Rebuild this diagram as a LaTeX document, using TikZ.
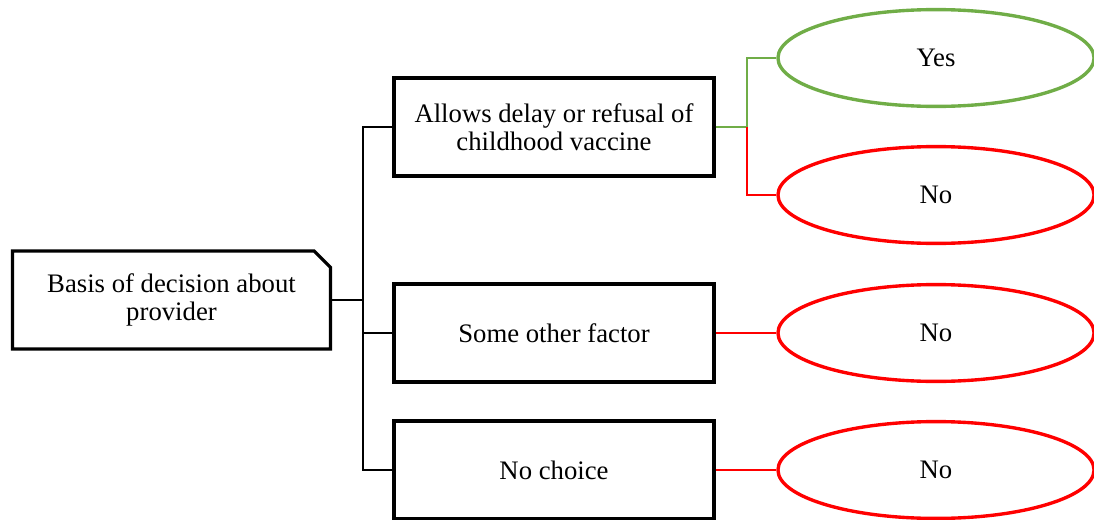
\documentclass[tikz,border=0pt]{standalone}
\usepackage{fontspec}
\setmainfont{Liberation Serif}
\usetikzlibrary{shapes.geometric,shapes.misc}
\definecolor{yesgreen}{RGB}{112,173,71}
\definecolor{nored}{RGB}{255,0,0}
\begin{document}
\begin{tikzpicture}[x=0.025cm, y=-0.025cm,
	box/.style={draw, line width=2.2pt, minimum width=8cm, minimum height=2.45cm, align=center, font=\fontsize{19}{20}\selectfont, inner sep=2pt},
	rootbox/.style={box, chamfered rectangle, chamfered rectangle corners=north east, chamfered rectangle xsep=0.2cm, chamfered rectangle ysep=0.21cm, minimum width=7.95cm, minimum height=2.45cm},
	answer/.style={ellipse, draw, line width=2.4pt, minimum width=7.9cm, minimum height=2.42cm, inner sep=0pt, font=\fontsize{19}{20}\selectfont},
	link/.style={line width=1.5pt}]
\useasboundingbox (0,0) rectangle (1094,520);
% Root
		\node[rootbox] (basis) at (171.5, 300) {Basis of decision about\\provider};
% Reasons
		\node[box] (delay) at (554, 127) {Allows delay or refusal of\\childhood vaccine};
		\node[box] (other) at (554, 333) {Some other factor};
		\node[box] (nochoice) at (554, 470) {No choice};
% Answers
		\node[answer, yesgreen] (yes) at (936, 58) {\color{black}Yes};
		\node[answer, nored] (no1) at (936, 195) {\color{black}No};
		\node[answer, nored] (no2) at (936, 333) {\color{black}No};
		\node[answer, nored] (no3) at (936, 470) {\color{black}No};
% Black tree
		\coordinate (split) at ([xshift=0.775cm]basis.east);
		\draw[link] (basis.east) -- (split);
		\draw[link] (split) |- (delay.west);
		\draw[link] (split) |- (other.west);
		\draw[link] (split) |- (nochoice.west);
% Coloured links
		\coordinate (fork) at ([xshift=0.775cm]delay.east);
		\draw[link, yesgreen] (delay.east) -- (fork) |- (yes.west);
		\draw[link, nored] (fork) |- (no1.west);
		\draw[link, nored] (other.east) -- (no2.west);
		\draw[link, nored] (nochoice.east) -- (no3.west);
\end{tikzpicture}
\end{document}
